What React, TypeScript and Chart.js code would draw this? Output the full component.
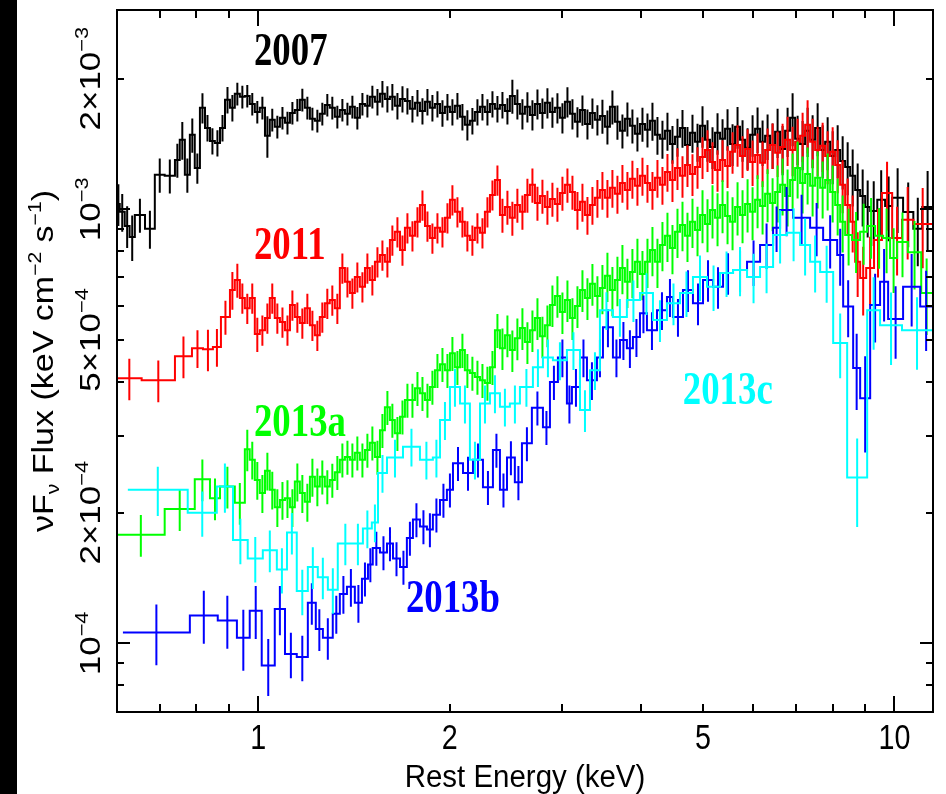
import React, { useEffect, useRef } from "react";
import Chart from "chart.js/auto";

// ---------------- data (energies in keV, flux in 1e-4 keV cm^-2 s^-1, errors in %) ----------------
const SERIES_NAMES = ["2007", "2011", "2013a", "2013b", "2013c"];

const EDGES_2007 = [
  0.600, 0.606, 0.617, 0.628, 0.640, 0.664, 0.688, 0.713, 0.740, 0.753, 0.767, 0.781, 0.795, 0.810, 0.825, 0.840,
  0.855, 0.871, 0.887, 0.903, 0.919, 0.936, 0.953, 0.970, 0.988, 1.006, 1.025, 1.043, 1.062, 1.082, 1.102, 1.122,
  1.142, 1.163, 1.184, 1.206, 1.228, 1.250, 1.273, 1.296, 1.320, 1.344, 1.369, 1.394, 1.419, 1.445, 1.472, 1.498,
  1.526, 1.554, 1.582, 1.611, 1.640, 1.671, 1.701, 1.732, 1.764, 1.796, 1.829, 1.862, 1.896, 1.931, 1.966, 2.002,
  2.038, 2.076, 2.113, 2.152, 2.191, 2.232, 2.272, 2.314, 2.356, 2.399, 2.443, 2.487, 2.532, 2.579, 2.626, 2.674,
  2.723, 2.773, 2.823, 2.875, 2.927, 2.981, 3.035, 3.091, 3.147, 3.205, 3.263, 3.323, 3.383, 3.445, 3.508, 3.572,
  3.637, 3.704, 3.771, 3.840, 3.910, 3.982, 4.055, 4.129, 4.204, 4.281, 4.359, 4.439, 4.520, 4.603, 4.687, 4.772,
  4.860, 4.949, 5.039, 5.131, 5.225, 5.321, 5.418, 5.517, 5.618, 5.720, 5.825, 5.932, 6.040, 6.150, 6.263, 6.377,
  6.494, 6.612, 6.733, 6.856, 6.982, 7.109, 7.239, 7.371, 7.506, 7.644, 7.783, 7.926, 8.071, 8.218, 8.368, 8.521,
  8.677, 8.835, 8.997, 9.161, 9.40, 9.67, 9.92, 10.32, 10.71, 11.06, 11.5,
];
const FLUX_2007 = [
  10.29, 9.87, 9.16, 8.64, 9.71, 9.02, 12.01, 11.95,
  13.00, 14.46, 12.01, 14.85, 12.46, 17.14, 15.41, 14.38, 14.23, 15.41,
  17.88, 17.14, 18.46, 18.17, 18.26, 17.50, 16.77, 17.14, 14.77, 16.08,
  15.50, 16.25, 15.83, 16.68, 16.95, 17.88, 17.14, 16.17, 16.00, 16.60,
  17.41, 17.14, 16.34, 16.95, 16.60, 17.23, 16.25, 17.50, 17.32, 18.17,
  17.69, 18.46, 17.97, 18.17, 17.32, 17.97, 17.78, 17.05, 17.60, 16.86,
  17.69, 17.14, 17.50, 16.68, 17.23, 16.77, 17.32, 16.34, 15.66, 16.00,
  16.77, 17.23, 16.77, 17.50, 17.05, 17.41, 16.86, 18.26, 17.50, 16.60,
  17.23, 16.51, 17.50, 16.68, 17.60, 16.77, 17.14, 16.25, 17.69, 16.60,
  15.91, 16.95, 15.74, 16.68, 16.08, 16.42, 15.50, 17.23, 15.91, 15.17,
  16.17, 15.58, 14.93, 15.74, 15.25, 16.00, 14.85, 14.54, 15.17, 14.15,
  14.70, 15.41, 14.08, 15.01, 14.31, 15.58, 14.46, 13.93, 15.01, 14.54,
  15.33, 14.15, 15.50, 14.46, 13.86, 14.85, 15.33, 14.31, 14.77, 14.08,
  15.09, 13.78, 15.17, 16.25, 14.54, 14.15, 15.17, 14.46, 15.41, 13.71,
  14.31, 13.28, 13.71, 12.93, 12.53, 11.95, 11.09, 10.74, 10.13,
  9.92, 10.52, 10.18, 10.63, 9.86, 9.02, 10.13,
];
const ERR_2007 = [
  11, 10, 11, 12, 9, 10, 9, 9,
  9, 10, 9, 9, 8, 8, 7, 7, 7, 7, 7, 7, 6, 6, 6, 6, 6, 6, 11, 6,
  6, 6, 6, 6, 6, 6, 6, 6, 6, 6, 6, 6, 6, 6, 6, 6, 6, 6, 6, 6,
  7, 7, 7, 7, 7, 7, 7, 7, 7, 7, 7, 7, 7, 7, 7, 7, 7, 7,
  8, 7, 7, 7, 7, 7, 7, 7, 7, 9,
  8, 8, 8, 8, 8, 8, 8, 8, 8, 8, 8, 8, 8, 8, 8, 8, 8,
  9, 9, 9, 9, 9, 9, 9, 9, 9, 9,
  10, 10, 10, 10, 10, 10, 10, 10, 10, 10,
  11, 11, 11, 11, 11, 11, 11, 11, 11, 11, 11,
  12, 12, 12, 12, 13, 13, 13, 14, 13, 13, 13,
  14, 14, 14, 14, 14, 14, 14, 14, 15, 15, 15, 15,
  17, 17, 17, 17, 17, 18, 21,
];

const EDGES_2011 = [
  0.600, 0.656, 0.740, 0.787, 0.819, 0.849, 0.874, 0.903, 0.919, 0.936, 0.953, 0.970, 0.988, 1.006, 1.025, 1.043,
  1.062, 1.082, 1.102, 1.122, 1.142, 1.163, 1.184, 1.206, 1.228, 1.250, 1.273, 1.296, 1.320, 1.344, 1.369, 1.394,
  1.419, 1.445, 1.472, 1.498, 1.526, 1.554, 1.582, 1.611, 1.640, 1.671, 1.701, 1.732, 1.764, 1.796, 1.829, 1.862,
  1.896, 1.931, 1.966, 2.002, 2.038, 2.076, 2.113, 2.152, 2.191, 2.232, 2.272, 2.314, 2.356, 2.399, 2.443, 2.487,
  2.532, 2.579, 2.626, 2.674, 2.723, 2.773, 2.823, 2.875, 2.927, 2.981, 3.035, 3.091, 3.147, 3.205, 3.263, 3.323,
  3.383, 3.445, 3.508, 3.572, 3.637, 3.704, 3.771, 3.840, 3.910, 3.982, 4.055, 4.129, 4.204, 4.281, 4.359, 4.439,
  4.520, 4.603, 4.687, 4.772, 4.860, 4.949, 5.039, 5.131, 5.225, 5.321, 5.418, 5.517, 5.618, 5.720, 5.825, 5.932,
  6.040, 6.150, 6.263, 6.377, 6.494, 6.612, 6.733, 6.856, 6.982, 7.109, 7.239, 7.371, 7.506, 7.644, 7.783, 7.926,
  8.071, 8.218, 8.368, 8.521, 8.677, 8.835, 9.03, 9.29, 9.56, 9.92, 10.28, 10.71, 11.46,
];
const FLUX_2011 = [
  4.08, 4.04, 4.59, 4.79, 4.76, 4.82, 5.65, 6.52,
  6.88, 6.25, 5.92, 6.25, 5.16, 5.27, 5.62, 6.25, 5.62, 5.50,
  5.27, 6.02, 5.65, 5.47, 5.92, 5.41, 5.13, 5.65, 6.08, 6.18,
  5.92, 7.33, 6.81, 6.42, 6.99, 6.63, 7.33, 6.88, 7.57, 7.85,
  7.57, 8.50, 8.88, 8.06, 9.07, 8.69, 9.36, 10.24, 9.16, 8.59,
  9.07, 8.88, 9.56, 10.52, 9.87, 9.36, 8.69, 8.50, 9.07, 8.83,
  9.87, 10.80, 11.69,
  9.71, 10.13, 9.56, 10.24, 9.87, 10.80, 11.39, 10.35, 10.74, 10.13,
  10.57, 10.29, 10.91, 11.39, 10.97, 9.97, 10.41, 9.71, 10.24, 10.63,
  11.09, 10.63, 11.21, 10.86, 11.51, 11.09, 11.76, 11.33, 11.95, 11.51,
  11.09, 11.82, 11.39, 12.20, 11.69, 12.46, 11.95, 12.66, 12.07, 12.53,
  13.21, 13.71, 12.86, 12.33, 13.00, 12.59, 13.57, 14.08, 13.28, 13.78,
  12.86, 13.35, 12.80, 13.71, 14.08, 13.50, 13.93, 14.46, 13.71, 14.31,
  14.77, 15.66, 14.31, 13.71, 14.01, 13.28, 13.57, 12.66, 11.39, 10.24,
  9.36, 7.57,
  6.95, 7.33, 8.50, 10.91, 8.59, 9.46, 9.26,
];
const ERR_2011 = [
  11, 11, 11, 10, 11, 10, 9, 10,
  9, 8, 8, 8, 9, 8, 8, 8, 8, 8, 8, 8, 8, 8, 8, 8, 8, 8, 8, 8,
  8, 8, 8, 8, 8, 8, 8, 8, 8, 8, 8, 8, 8, 8, 8, 8, 8, 8, 8, 8,
  8, 8, 8, 8, 8, 8, 8, 8, 8, 8, 8, 8, 8,
  9, 9, 9, 9, 9, 9, 9, 9, 9, 9, 9, 9, 9, 9, 9,
  10, 10, 10, 10, 10, 10, 10, 10, 10, 10, 10, 10, 10, 10, 10, 10, 10, 10, 10,
  11, 11, 11, 11, 11, 11, 11, 11, 11, 11, 11, 11, 11, 11, 11, 11,
  12, 12, 12, 12, 12, 12, 13, 13, 13, 13,
  13, 14, 13, 13, 13, 14, 14, 14, 14, 15, 15, 17,
  18, 18, 18, 18, 18, 19, 21,
];

const EDGES_2013A = [
  0.600, 0.713, 0.795, 0.840, 0.871, 0.919, 0.953, 0.970, 0.988, 1.006, 1.025, 1.043, 1.062, 1.082, 1.102, 1.122,
  1.142, 1.163, 1.184, 1.206, 1.228, 1.250, 1.273, 1.296, 1.320, 1.344, 1.369, 1.394, 1.419, 1.445, 1.472, 1.498,
  1.526, 1.554, 1.582, 1.611, 1.640, 1.671, 1.701, 1.732, 1.764, 1.796, 1.829, 1.862, 1.896, 1.931, 1.966, 2.002,
  2.038, 2.076, 2.113, 2.152, 2.191, 2.232, 2.272, 2.314, 2.356, 2.399, 2.443, 2.487, 2.532, 2.579, 2.626, 2.674,
  2.723, 2.773, 2.823, 2.875, 2.927, 2.981, 3.035, 3.091, 3.147, 3.205, 3.263, 3.323, 3.383, 3.445, 3.508, 3.572,
  3.637, 3.704, 3.771, 3.840, 3.910, 3.982, 4.055, 4.129, 4.204, 4.281, 4.359, 4.439, 4.520, 4.603, 4.687, 4.772,
  4.860, 4.949, 5.039, 5.131, 5.225, 5.321, 5.418, 5.517, 5.618, 5.720, 5.825, 5.932, 6.040, 6.150, 6.263, 6.377,
  6.494, 6.612, 6.733, 6.856, 6.982, 7.109, 7.239, 7.371, 7.506, 7.644, 7.783, 7.926, 8.071, 8.218, 8.368,
  8.58, 8.835, 9.06, 9.325, 9.60, 9.845, 10.10, 10.50, 11.02, 11.46,
];
const FLUX_2013A = [
  1.78, 2.04, 2.39, 2.16, 2.30, 2.11,
  2.80, 2.65, 2.38, 2.22, 2.50, 2.26, 2.06, 2.14, 2.16, 2.06,
  2.36, 2.22, 2.12, 2.42, 2.30, 2.42, 2.30, 2.38, 2.48, 2.65,
  2.69, 2.65, 2.75, 2.65, 2.79, 2.90, 2.69, 3.10, 3.50, 3.27,
  3.05, 3.33, 3.64, 3.64, 3.87, 3.77, 3.64, 3.90, 4.26, 4.40,
  4.26, 4.66, 4.33, 4.74, 4.26, 4.20, 4.11, 4.04, 3.98, 4.33,
  5.27,
  4.79, 5.13, 4.74, 5.05, 5.33, 4.95, 5.27, 5.62, 5.10, 5.41,
  6.02, 6.32, 5.80, 6.18, 5.62, 5.99, 6.52, 6.25, 6.74, 6.32,
  6.59, 7.03, 6.52, 6.88, 7.33, 6.81, 7.17, 7.57, 7.10, 7.57,
  8.06, 7.57, 8.28, 8.69, 8.15, 8.88, 9.21, 8.69, 9.36, 8.97,
  9.71, 9.26, 9.97, 9.56, 10.24, 9.66, 9.36, 10.13, 9.71, 10.29,
  9.87, 10.52, 10.18, 10.86, 10.35, 10.97, 11.39, 10.74, 11.69, 12.46,
  11.51, 12.07, 11.33, 11.82, 11.21, 11.69, 10.97, 10.24, 9.36,
  8.73, 8.50, 8.88, 9.16, 8.69, 8.59, 7.73, 8.41, 7.97, 6.42,
];
const ERR_2013A = [
  11, 11, 11, 11, 11, 11,
  11, 10, 10, 10, 10, 10, 10, 10, 10, 10, 10, 10, 10, 10, 10,
  9, 9, 9, 9, 9, 9, 9, 9, 9, 9, 9, 9, 9, 9, 9, 9, 9, 9,
  9, 9, 9, 9, 9, 9, 9, 9, 9, 9, 9, 9, 9, 9, 9, 9, 9, 9,
  11, 11, 11, 11, 11, 11, 11, 11, 11, 11, 11, 11, 11, 11, 11, 11, 11, 11, 11, 11,
  13, 13, 13, 13, 13, 13, 13, 13, 13, 13, 13, 13, 13, 13, 13, 13, 13, 13, 13, 13,
  14, 14, 14, 14, 14, 14, 14, 14, 14, 14, 14, 14, 14, 14, 14,
  15, 15, 15, 15, 15, 15, 15, 15, 15, 15, 15, 15, 15, 15,
  15, 16, 16, 16, 16, 17, 17, 17, 18, 20,
];

const EDGES_2013B = [
  0.613, 0.781, 0.864, 0.926, 0.970, 1.013, 1.062, 1.102, 1.150, 1.197,
  1.232, 1.264, 1.310, 1.344, 1.379, 1.419, 1.456, 1.488, 1.514, 1.554,
  1.594, 1.629, 1.671, 1.713, 1.751, 1.796, 1.842, 1.882, 1.931, 1.980,
  2.024, 2.099, 2.176, 2.256, 2.339, 2.399, 2.461, 2.532, 2.598, 2.693,
  2.803, 2.875, 2.959, 3.057, 3.113, 3.205, 3.287, 3.408, 3.483, 3.611,
  3.704, 3.798, 3.882, 3.982, 4.084, 4.235, 4.391, 4.487, 4.653, 4.824,
  5.003, 5.187, 5.379, 5.577, 5.867, 6.150, 6.447, 6.612, 6.931, 7.371,
  7.727, 8.130, 8.308, 8.614, 8.835, 9.161, 9.495, 9.776, 10.32, 10.98,
  11.46,
];
const FLUX_2013B = [
  1.06, 1.16, 1.13, 1.03, 1.19, 0.89, 1.20, 0.945, 0.93, 1.24,
  1.08, 1.03, 1.17, 1.30, 1.35, 1.24, 1.41, 1.52, 1.66, 1.62,
  1.70, 1.57, 1.50, 1.75, 1.93, 1.86, 1.83, 1.98, 2.14, 2.26,
  2.60, 2.47, 2.65, 2.29, 2.79, 2.26, 2.68, 2.35, 2.89, 3.49,
  3.15, 4.00, 4.56, 3.57, 3.90, 4.56, 4.04, 4.56, 5.35, 4.56,
  5.00, 4.79, 5.08, 5.76, 5.27, 5.86, 6.28, 5.65, 6.52, 6.08,
  6.88, 6.63, 7.14, 7.25, 7.57, 8.28, 9.07, 9.97, 9.56, 9.07,
  8.50, 7.85, 5.97, 4.31, 3.67, 6.02, 6.81, 5.59, 6.63, 5.97,
];
const ERR_2013B = [
  16, 14, 14, 16, 14, 15, 13, 12, 12, 11,
  11, 11, 10, 10, 10, 10, 9, 9, 9, 9,
  9, 9, 9, 9, 9, 9, 9, 9, 9, 9,
  9, 9, 9, 9, 9, 9, 9, 9, 9, 9,
  9, 9, 10, 10, 10, 10, 10, 10, 10, 10,
  10, 10, 10, 10, 10, 10, 10, 10, 11, 11,
  11, 11, 11, 11, 12, 12, 12, 13, 13, 14,
  14, 15, 15, 20, 25, 18, 19, 19, 19, 21,
];

const EDGES_2013C = [
  0.624, 0.775, 0.861, 0.913, 0.963, 1.017, 1.070, 1.110, 1.150, 1.197,
  1.241, 1.287, 1.334, 1.409, 1.461, 1.509, 1.543, 1.594, 1.689, 1.796,
  1.882, 1.931, 2.002, 2.076, 2.152, 2.232, 2.314, 2.399, 2.487, 2.579,
  2.703, 2.803, 2.906, 3.057, 3.205, 3.323, 3.445, 3.611, 3.798, 3.982,
  4.174, 4.391, 4.603, 4.824, 5.076, 5.321, 5.577, 5.867, 6.150, 6.447,
  6.782, 7.109, 7.371, 7.644, 8.013, 8.429, 9.062, 9.495, 10.28, 11.46,
];
const FLUX_2013C = [
  2.26, 2.00, 2.30, 1.73, 1.57, 1.64, 1.48, 1.80, 1.32, 1.50,
  1.42, 1.33, 1.70, 1.70, 1.84, 1.90, 2.47, 2.68, 2.84, 2.65,
  2.68, 3.27, 3.90, 3.57, 2.65, 3.57, 3.77, 3.51, 3.57, 3.90,
  4.33, 4.56, 4.49, 4.74, 3.45, 4.26, 5.86, 5.65, 6.18, 6.42,
  5.56, 6.08, 6.42, 6.99, 6.63, 7.14, 7.25, 6.99, 7.37, 8.73,
  8.83, 8.28, 7.57, 7.17, 4.92, 2.41, 5.86, 5.41, 5.27,
];
const ERR_2013C = [
  13, 12, 13, 12, 12, 11, 12, 11, 12, 11,
  11, 12, 11, 11, 10, 10, 10, 10, 10, 10,
  10, 10, 10, 10, 10, 10, 10, 10, 10, 10,
  10, 10, 10, 10, 11, 10, 10, 10, 11, 11,
  11, 11, 12, 12, 12, 12, 13, 13, 13, 14,
  14, 15, 15, 15, 17, 23, 19, 19, 19,
];

// axis tick values and labels
const X_TICK_LABELS = [1, 2, 5, 10];
const X_MAJOR_TICKS = [1, 10];
const X_MINOR_TICKS = [0.7, 0.8, 0.9, 2, 3, 4, 5, 6, 7, 8, 9];
const Y_TICK_LABELS = [1e-4, 2e-4, 5e-4, 1e-3, 2e-3];
const Y_TICK_MANTISSA = ["10", "2×10", "5×10", "10", "2×10"];
const Y_TICK_EXPONENT = ["−4", "−4", "−4", "−3", "−3"];
const Y_MAJOR_TICKS = [1e-4, 1e-3];
const Y_MINOR_TICKS = [8e-5, 9e-5, 2e-4, 3e-4, 4e-4, 5e-4, 6e-4, 7e-4, 8e-4, 9e-4, 2e-3];

// ---------------- styling ----------------
const COLORS: Record<string, string> = {
  "2007": "#000000",
  "2011": "#ff0000",
  "2013a": "#00ff00",
  "2013b": "#0000ff",
  "2013c": "#00ffff",
};
const SANS = '"Liberation Sans", Arial, Helvetica, sans-serif';
const SERIF = '"Liberation Serif", "Times New Roman", Times, serif';

// label anchors in data coordinates (keV, flux)
const LABEL_ANCHORS: Record<string, [number, number]> = {
  "2007": [0.985, 2.15e-3],
  "2011": [0.985, 7.69e-4],
  "2013a": [0.985, 3.0e-4],
  "2013b": [1.707, 1.18e-4],
  "2013c": [4.65, 3.56e-4],
};

const SERIES: Record<string, { edges: number[]; flux: number[]; err: number[] }> = {
  "2007": { edges: EDGES_2007, flux: FLUX_2007, err: ERR_2007 },
  "2011": { edges: EDGES_2011, flux: FLUX_2011, err: ERR_2011 },
  "2013a": { edges: EDGES_2013A, flux: FLUX_2013A, err: ERR_2013A },
  "2013b": { edges: EDGES_2013B, flux: FLUX_2013B, err: ERR_2013B },
  "2013c": { edges: EDGES_2013C, flux: FLUX_2013C, err: ERR_2013C },
};

function buildSeries(edges: number[], flux: number[], err: number[]) {
  const n = Math.min(flux.length, edges.length - 1);
  const hist: { x: number; y: number }[] = [];
  for (let i = 0; i < n; i++) hist.push({ x: edges[i], y: flux[i] * 1e-4 });
  hist.push({ x: edges[n], y: flux[n - 1] * 1e-4 });
  const bars: { x: number; y: number | null }[] = [];
  for (let i = 0; i < n; i++) {
    const c = Math.sqrt(edges[i] * edges[i + 1]);
    const f = flux[i] * 1e-4;
    const d = (f * (err[i] ?? 10)) / 100;
    bars.push({ x: c, y: f - d }, { x: c, y: f + d }, { x: c, y: null });
  }
  return { hist, bars };
}

type Part = [string, number];

function runWidth(ctx: CanvasRenderingContext2D, parts: Part[], size: number) {
  let w = 0;
  for (const [t, k] of parts) {
    ctx.font = `${k ? size * 0.62 : size}px ${SANS}`;
    w += ctx.measureText(t).width;
  }
  return w;
}

function drawRun(ctx: CanvasRenderingContext2D, parts: Part[], size: number, x0: number) {
  let x = x0;
  for (const [t, k] of parts) {
    const s = k ? size * 0.62 : size;
    ctx.font = `${s}px ${SANS}`;
    const dy = k === 1 ? -size * 0.42 : k === -1 ? size * 0.2 : 0;
    ctx.fillText(t, x, dy);
    x += ctx.measureText(t).width;
  }
}

function drawLabel(
  ctx: CanvasRenderingContext2D,
  parts: Part[],
  cx: number,
  cy: number,
  size: number,
  sx: number,
  rotate: boolean
) {
  ctx.save();
  ctx.translate(cx, cy);
  if (rotate) {
    ctx.rotate(-Math.PI / 2);
    ctx.scale(1, sx);
  } else {
    ctx.scale(sx, 1);
  }
  ctx.fillStyle = "#000";
  ctx.textAlign = "left";
  ctx.textBaseline = "alphabetic";
  const w = runWidth(ctx, parts, size);
  drawRun(ctx, parts, size, -w / 2);
  ctx.restore();
}

const decorations = {
  id: "decorations",
  beforeDraw(chart: any) {
    const { ctx, width, height } = chart;
    ctx.save();
    ctx.fillStyle = "#ffffff";
    ctx.fillRect(0, 0, width, height);
    ctx.fillStyle = "#000000";
    ctx.fillRect(0, 0, 17, height);
    ctx.restore();
  },
  afterDraw(chart: any) {
    const { ctx, chartArea } = chart;
    const { left, right, top, bottom } = chartArea;
    const xs = chart.scales.x;
    const ys = chart.scales.y;
    ctx.save();
    ctx.strokeStyle = "#000";
    ctx.lineWidth = 2;
    ctx.lineCap = "butt";
    ctx.beginPath();
    const tickX = (v: number, len: number) => {
      const px = Math.round(xs.getPixelForValue(v));
      ctx.moveTo(px, bottom);
      ctx.lineTo(px, bottom - len);
      ctx.moveTo(px, top);
      ctx.lineTo(px, top + len);
    };
    const tickY = (v: number, len: number) => {
      const py = Math.round(ys.getPixelForValue(v));
      ctx.moveTo(left, py);
      ctx.lineTo(left + len, py);
      ctx.moveTo(right, py);
      ctx.lineTo(right - len, py);
    };
    X_MAJOR_TICKS.forEach((v) => tickX(v, 16));
    X_MINOR_TICKS.forEach((v) => tickX(v, 8));
    Y_MAJOR_TICKS.forEach((v) => tickY(v, 13));
    Y_MINOR_TICKS.forEach((v) => tickY(v, 7));
    ctx.stroke();
    ctx.strokeRect(left, top, right - left, bottom - top);

    // x tick labels
    X_TICK_LABELS.forEach((v) => {
      drawLabel(ctx, [[String(v), 0]], xs.getPixelForValue(v), bottom + 37, 35, 0.82, false);
    });
    // x title
    drawLabel(ctx, [["Rest Energy (keV)", 0]], (left + right) / 2, 787, 31, 0.95, false);

    // y tick labels (rotated)
    Y_TICK_LABELS.forEach((v, i) => {
      drawLabel(
        ctx,
        [
          [Y_TICK_MANTISSA[i], 0],
          [Y_TICK_EXPONENT[i], 1],
        ],
        100,
        ys.getPixelForValue(v),
        35,
        0.84,
        true
      );
    });
    // y title
    drawLabel(
      ctx,
      [
        ["ν", 0],
        ["F", 0],
        ["ν", -1],
        [" Flux (keV cm", 0],
        ["−2", 1],
        [" s", 0],
        ["−1", 1],
        [")", 0],
      ],
      53,
      (top + bottom) / 2,
      34,
      0.85,
      true
    );

    // series labels
    SERIES_NAMES.forEach((name) => {
      const [ex, fy] = LABEL_ANCHORS[name];
      ctx.save();
      ctx.translate(xs.getPixelForValue(ex), ys.getPixelForValue(fy));
      ctx.scale(0.8, 1);
      ctx.font = `bold 46px ${SERIF}`;
      ctx.fillStyle = COLORS[name];
      ctx.textAlign = "left";
      ctx.textBaseline = "alphabetic";
      ctx.fillText(name, 0, 0);
      ctx.restore();
    });
    ctx.restore();
  },
};

export default function App() {
  const ref = useRef<HTMLCanvasElement | null>(null);
  useEffect(() => {
    document.body.style.margin = "0";
    const datasets: any[] = [];
    // drawn last = on top; Chart.js draws dataset 0 last
    ["2013c", "2013b", "2013a", "2011", "2007"].forEach((name) => {
      const s = SERIES[name];
      const { hist, bars } = buildSeries(s.edges, s.flux, s.err);
      datasets.push({
        label: name,
        data: hist,
        stepped: "before",
        borderColor: COLORS[name],
        borderWidth: 2,
        pointRadius: 0,
        fill: false,
        tension: 0,
        clip: 0,
      });
      datasets.push({
        label: name + " err",
        data: bars,
        borderColor: COLORS[name],
        borderWidth: 2,
        pointRadius: 0,
        fill: false,
        spanGaps: false,
        clip: 0,
      });
    });
    const chart = new Chart(ref.current as HTMLCanvasElement, {
      type: "line",
      data: { datasets },
      options: {
        animation: false,
        responsive: false,
        devicePixelRatio: 1,
        layout: { padding: { left: 117, right: 13, top: 10, bottom: 82 } },
        plugins: { legend: { display: false }, tooltip: { enabled: false } },
        events: [],
        scales: {
          x: { type: "logarithmic", min: 0.6, max: 11.5, display: false },
          y: { type: "logarithmic", min: 6.95e-5, max: 2.88e-3, display: false },
        },
      },
      plugins: [decorations],
    } as any);
    return () => chart.destroy();
  }, []);
  return (
    <div style={{ position: "absolute", left: 0, top: 0, width: 946, height: 794 }}>
      <canvas ref={ref} width={946} height={794} style={{ display: "block" }} />
    </div>
  );
}
